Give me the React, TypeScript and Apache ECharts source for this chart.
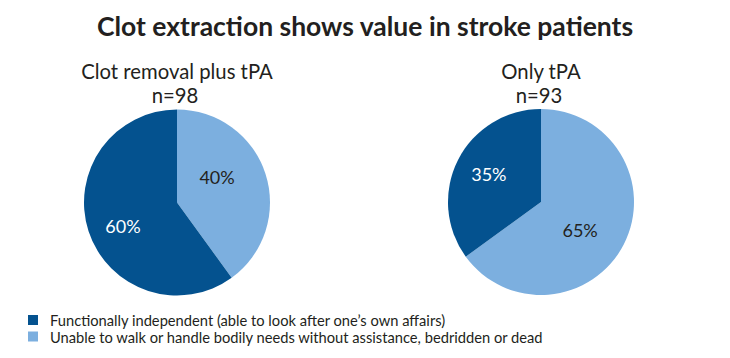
import React, { useEffect, useRef } from "react";
import * as echarts from "echarts";

const categories = [
  "Unable to walk or handle bodily needs without assistance, bedridden or dead",
  "Functionally independent (able to look after one\u2019s own affairs)",
];
const legendOrder = [categories[1], categories[0]];
const groupNames = ["Clot removal plus tPA", "Only tPA"];
const groupN = ["n=98", "n=93"];
const clotRemovalValues = [40, 60];
const onlyTpaValues = [65, 35];
const mainTitle = "Clot extraction shows value in stroke patients";

const LIGHT = "#7cafdf";
const DARK = "#04528f";
const FONT = "Lato";

// label nudges [series][dataIndex] = [dx, dy]
const labelNudge = [
  [[-7, -10], [-7, 8]],
  [[-5, 6], [-8, -6]],
];

export default function App() {
  const ref = useRef<HTMLDivElement>(null);
  useEffect(() => {
    if (!ref.current) return;
    const chart = echarts.init(ref.current, undefined, { renderer: "svg" });
    const centers = [
      [177, 202.5],
      [541, 202],
    ];
    const makeSeries = (vals: number[], idx: number) => ({
      type: "pie",
      center: centers[idx],
      radius: 93,
      startAngle: 90,
      clockwise: true,
      avoidLabelOverlap: false,
      silent: true,
      itemStyle: { borderWidth: 0 },
      label: {
        show: true,
        position: "inside",
        formatter: "{c}%",
        fontFamily: FONT,
        fontSize: 18,
      },
      labelLine: { show: false },
      labelLayout: (p: any) => {
        const n = labelNudge[idx][p.dataIndex];
        return { dx: n[0], dy: n[1] };
      },
      data: vals.map((v, i) => ({
        name: categories[i],
        value: v,
        itemStyle: { color: i === 0 ? LIGHT : DARK },
        label: { color: i === 0 ? "#231f20" : "#ffffff" },
      })),
    });
    const subStyle = {
      fontFamily: FONT,
      fontSize: 20.3,
      fontWeight: "normal",
      lineHeight: 24,
      color: "#231f20",
    };
    chart.setOption({
      animation: false,
      title: [
        {
          text: mainTitle,
          left: 365,
          textAlign: "center",
          top: 12,
          padding: 0,
          textStyle: { fontFamily: FONT, fontSize: 26.5, fontWeight: "bold", color: "#231f20" },
        },
        ...groupNames.map((g, i) => ({
          text: g,
          left: centers[i][0],
          textAlign: "center",
          top: 59,
          padding: 0,
          textStyle: subStyle,
        })),
        ...groupN.map((g, i) => ({
          text: g,
          left: centers[i][0] - 2,
          textAlign: "center",
          top: 83,
          padding: 0,
          textStyle: subStyle,
        })),
      ],
      legend: {
        orient: "vertical",
        left: 28,
        top: 312,
        padding: 0,
        itemWidth: 10,
        itemHeight: 10,
        itemGap: 0.5,
        icon: "rect",
        selectedMode: false,
        data: legendOrder,
        textStyle: {
          fontFamily: FONT,
          fontSize: 14.7,
          lineHeight: 16,
          color: "#231f20",
          padding: [0, 0, 0, 7],
        },
      },
      series: [makeSeries(clotRemovalValues, 0), makeSeries(onlyTpaValues, 1)],
    });
    return () => chart.dispose();
  }, []);
  return (
    <div
      ref={ref}
      style={{ position: "fixed", left: 0, top: 0, width: 730, height: 358, background: "#fff" }}
    />
  );
}
